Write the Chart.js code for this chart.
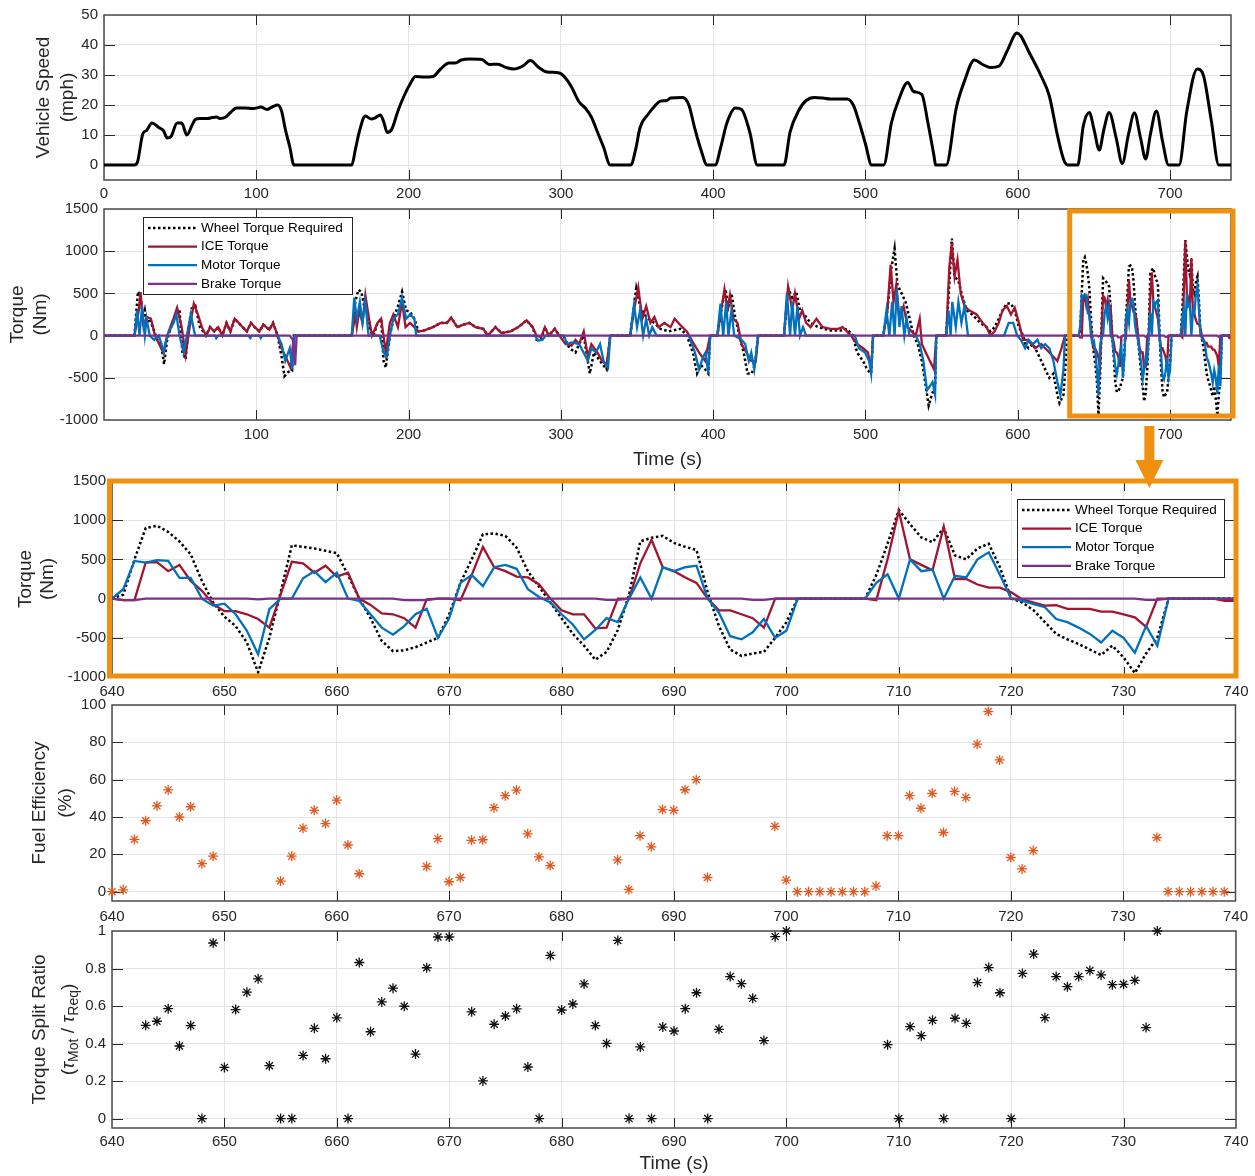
<!DOCTYPE html>
<html>
<head>
<meta charset="utf-8">
<script src="https://cdn.jsdelivr.net/npm/chart.js@4.4.1/dist/chart.umd.min.js"></script>
<style>
  html, body { margin: 0; padding: 0; background: #fff; }
  #page { position: relative; width: 1255px; height: 1176px; overflow: hidden; }
  #page canvas { position: absolute; left: 0; }
</style>
</head>
<body>
<div id="page">
  <canvas id="speed" width="1255" height="205" style="top:0px"></canvas>
  <canvas id="torqueFull" width="1255" height="301" style="top:194px"></canvas>
  <canvas id="torqueZoom" width="1255" height="239" style="top:466px"></canvas>
  <canvas id="fuelEff" width="1255" height="240" style="top:690px"></canvas>
  <canvas id="splitRatio" width="1255" height="260" style="top:916px"></canvas>
</div>
<script>
// ---- data ----
// vehicle speed (mph), [time s, speed]
const speedTrace = [[0,0],[20,0],[22,1],[25.5,10.4],[28,11.5],[31.4,14],[36,12.5],[39,11.5],[41.5,9],[44,9.5],[48,14],[51,14],[54.4,10],[57.6,13],[60,15.2],[63,15.5],[68,15.5],[71,15.8],[74,16],[76,15.5],[80,16],[83,17.5],[87,19],[92.5,19],[98,18.8],[103,19.3],[107,18.5],[111,19.5],[114,20],[116.6,18],[119,12],[122,6],[124.7,0],
  [162.7,0],[165,5],[167.6,11],[171.6,16.3],[175.6,15.3],[178,15.7],[181.5,16.7],[183.6,14.5],[186,10.8],[189,12],[193,18],[197,23],[201,27],[204.6,29.5],[210,29.3],[216,29.5],[221,32],[226.5,34],[230.6,34],[234.6,35],[240,35.3],[248,35.2],[253,33.5],[258.7,33.6],[264,32.5],[269,32],[275,33],[280,34.8],[285.5,32.5],[291,31],[299,30.7],[303,29],[307,26],[312,21],[316,19],[320,16],[324,11],[328,6],[332.4,0],
  [346,0],[349,5],[352,12.5],[357.4,17],[361.4,19.5],[365.4,21.3],[369.4,21.5],[372,22.3],[380,22.5],[384,20],[388,12],[392,5],[396,0],[401.3,0],[405,6],[409,14],[414.6,19],[418.6,18.5],[424,11],[429,0],
  [446.5,0],[450.5,11],[456,18],[461,21.5],[466.5,22.5],[472,22.3],[477,22],[488,22],[492,20],[496,14],[500,7],[504,0],[512,0],[517,14],[522,22],[527.7,27.5],[531.6,24.5],[537,23.5],[541,14],[545,3],[546,0],
  [553,0],[559.6,19],[565,28],[571.5,35],[577,33.5],[582,32.5],[587.8,33],[593,38],[599.5,44],[602,43],[607,38],[615,30],[620.7,23],[626,10],[630,2],[632.7,0],[639.4,0],
  [643,13],[647,17.5],[650,12],[653.5,5],[656.6,12],[660,17.5],[664.6,9],[668.6,0.5],[672.6,10],[676.6,17.3],[680.6,9],[684,2],[687,10],[691,18],[695,8],[699,0],[705.9,0],[711,18],[717.8,32],[721.8,30],[727,15],[732,0],[740,0]];

// torque over the whole cycle before the zoom window (Nm), [time s, torque]
const reqEarly = [[0,0],[20,0],[22.3,520],[24,480],[25.5,200],[26.8,300],[28,150],[30,200],[32,100],[35,-50],[37.5,-100],[39.4,-340],[41.5,-50],[44,100],[47,250],[49.6,300],[51.5,-200],[53.6,-280],[55.5,100],[57.6,320],[60,350],[63,100],[65,50],[67,0],[69.7,100],[72.4,50],[75,100],[77.7,0],[80.4,150],[83,50],[85.8,200],[88.5,150],[91,100],[93.8,50],[96.5,150],[99,100],[102,50],[104.6,130],[108.6,70],[111,150],[114,0],[116.6,-250],[118.5,-480],[121,-430],[123.5,-420],[124.7,0],
  [162.7,0],[165,400],[167,542],[169,520],[170.8,350],[173,300],[175,50],[177,0],[179.6,150],[182,200],[183.6,-300],[185,-380],[187.7,0],[190,200],[193,350],[195.7,520],[198.4,300],[201,280],[203.8,200],[206.4,50],[210,60],[216,100],[221,150],[225,150],[228,210],[232,100],[236,130],[240,150],[244,100],[249,80],[252,0],[257,100],[261,30],[267,50],[272,100],[277.5,180],[281.5,100],[284,-50],[287,-50],[289.5,100],[292,0],[296,80],[299,0],[301.6,0],[305.6,-150],[309.6,-200],[312,-100],[315,0],[319,-450],[321.7,-200],[325.7,-300],[330,-400],[332.4,0],
  [345.5,0],[349.5,560],[352,350],[354.8,250],[357.4,200],[361.4,150],[365.4,80],[370.7,50],[378.7,80],[382.7,0],[386.7,-200],[389.4,-450],[392,-350],[394.7,-400],[396.8,-450],[398,0],
  [402.7,0],[405.3,300],[408,550],[410,350],[412,500],[414.6,200],[417.3,0],[420,-200],[422.6,-450],[425.3,-450],[427.4,-350],[429.5,0],
  [446.5,0],[449.2,560],[451.9,450],[454.5,520],[457,300],[459.8,250],[463.8,150],[469,100],[477,60],[483.8,60],[487.8,80],[491.8,0],[494.4,-200],[498.4,-300],[501,-400],[503.7,-450],[505,0],
  [511.7,0],[514.4,300],[517,800],[519.1,1030],[521,600],[523.7,500],[526.3,400],[529,200],[531.6,0],[534.3,-100],[537,-300],[539.6,-600],[541.5,-830],[543.6,-700],[545.7,-600],[546.5,0],
  [553,0],[555,600],[556.7,1150],[558.5,700],[561,650],[563.8,450],[566.5,300],[570,250],[575.5,150],[579.5,100],[582,50],[584.8,100],[587.5,200],[590,300],[592.8,380],[595.5,380],[598,300],[600.8,100],[603.5,0],[604.8,-100],[607,-150],[610,-100],[612.8,-200],[615.4,-300],[618,-400],[620.7,-500],[623.4,-450],[626,-700],[627.4,-800],[630,-700],[632.7,0],[639,0]];

const iceEarly = [[0,0],[20,0],[22.8,300],[24,515],[26,100],[28,220],[30.8,200],[33.5,0],[38.9,-200],[41.5,0],[45.6,200],[48,330],[51,100],[53.6,-230],[55.8,50],[59,380],[61.7,250],[64.3,100],[67,0],[69.7,100],[72.4,50],[75,100],[77.7,0],[80.4,150],[83,50],[85.8,200],[88.5,150],[91,100],[93.8,50],[96.5,150],[99,100],[102,50],[104.6,130],[108.6,70],[111,150],[114,0],[116.6,-150],[119.3,-250],[122.5,-380],[124.7,0],
  [162.7,0],[165,250],[166,100],[167.6,300],[169.7,150],[171.6,480],[174,200],[176,0],[179.6,150],[182,200],[185,-200],[187.7,150],[190,250],[193,100],[195.7,400],[198,100],[201,150],[203.8,100],[206.4,50],[210,60],[216,100],[221,150],[225,150],[228,210],[232,100],[236,130],[240,150],[244,100],[249,80],[252,0],[257,100],[261,30],[267,50],[272,100],[277.5,180],[281.5,100],[284,0],[287,-20],[289.5,100],[292,0],[296,80],[299,0],[303,-100],[307,-120],[309.6,-50],[312,-100],[315,50],[317.7,-250],[320,-100],[324,-200],[327,-300],[330,-350],[332.4,0],
  [345.5,0],[348,300],[350.8,570],[353.5,200],[356,350],[358.8,150],[361.4,220],[364,100],[368,150],[372,100],[374.7,200],[378.7,120],[382.7,50],[386.7,-80],[390.7,-200],[394.7,-300],[396.8,-100],[398,0],
  [402.7,0],[405.3,300],[407.4,550],[409.3,300],[411,480],[413.3,200],[416,150],[418.6,-100],[421.8,-200],[425,-300],[428,-300],[429.5,0],
  [446.5,0],[449.2,580],[451.9,300],[453.7,500],[456.4,200],[458.5,300],[461,150],[464,100],[467.8,200],[471.8,100],[477,80],[482,80],[485,100],[487.8,50],[490.4,0],[494.4,-100],[498.4,-150],[501.6,-200],[503.7,-400],[505,0],
  [511.7,0],[514.4,300],[516.5,840],[518.4,400],[520.2,600],[522.3,200],[525,350],[527.7,100],[530.3,50],[533,0],[535.6,200],[537,-100],[539.6,-200],[542.3,-300],[545,-400],[546.5,0],
  [553,0],[555,800],[556.7,1100],[558.5,700],[560.4,900],[562.5,500],[565,350],[568,300],[573,250],[577,150],[579.5,100],[582,0],[584.8,50],[587.5,150],[590,300],[592.8,350],[595.5,250],[598,330],[600.8,150],[603.5,-50],[606,-50],[608.8,-100],[611.4,-150],[615.4,-100],[618,-150],[620.7,-200],[623.4,-250],[626,-300],[628.7,-150],[631,0],[639,0]];

const motEarly = [[0,0],[20,0],[21.7,300],[23.3,0],[25,350],[26.8,0],[28,200],[30,0],[33,-50],[36,0],[39.4,-200],[41.5,0],[45.6,150],[47.5,250],[49.6,0],[52.3,-200],[54.4,0],[57,250],[59.8,0],[73,0],[73.7,-30],[75,0],[95,0],[96,-30],[97,0],[102,0],[103,-30],[104,0],[114,0],[116.6,-100],[119,-300],[122,-150],[123.6,-400],[125.2,0],
  [162.7,0],[164.3,450],[166,200],[168,400],[169.7,150],[171.6,400],[173.7,0],[181,0],[183.6,-200],[185.7,-250],[187.7,0],[190,200],[193,250],[195.7,450],[198.4,200],[201,250],[203.8,200],[205,0],[283,0],[285,-60],[288,-50],[290,0],[302,0],[304,-100],[307,-80],[312,-100],[317.7,-300],[320,-150],[323,-200],[325.7,-100],[328,-300],[331,-380],[332.4,0],
  [345.5,0],[348,365],[350,100],[352,300],[354,0],[356,200],[358,0],[360,100],[362.8,0],[384,0],[388,-200],[390.7,-400],[393.4,-250],[395,-200],[396.8,-450],[398,0],
  [402.7,0],[404.8,380],[406.6,0],[408.5,400],[410,0],[412,300],[413.8,0],[418.6,-50],[421,-100],[423.4,-300],[425,-200],[427,-400],[429.5,0],
  [446.5,0],[448.4,500],[450.5,0],[451.9,400],[453.7,0],[455.3,350],[457,0],[459,100],[461,0],[493,0],[495.7,-150],[499.7,-200],[502.4,-300],[503.7,-450],[505,0],
  [511.7,0],[513.8,300],[515.7,0],[517.5,400],[519.1,0],[520.5,550],[522.3,100],[523.7,350],[525.5,0],[527,200],[529,0],[533,0],[535.6,-100],[538,-300],[540.4,-650],[542.3,-600],[544,-550],[545.7,-700],[546.5,0],
  [553,0],[554.5,300],[555.9,0],[557,400],[559.3,100],[561,400],[563,150],[565,350],[567.3,0],[591,0],[594,150],[597,150],[599.6,0],[602,-50],[604.8,-150],[607,-50],[610,-100],[612.8,-50],[615.4,-150],[618,-100],[620.7,-150],[623.4,-300],[626,-550],[628,-700],[630,-400],[631,0],[639,0]];

const brkEarly = [[0,0],[122,0],[124,-50],[125.5,-350],[126.5,0],[639,0]];

// zoom window 640..740 s, one value per second
const zoomStart = 640;
const zoomReq = [0,50,500,900,930,850,730,564,225,-50,
  -230,-350,-560,-940,-500,80,680,660,640,610,
  580,300,0,-250,-540,-670,-660,-620,-560,-500,
  -200,200,500,820,830,800,650,350,150,-50,
  -250,-450,-600,-780,-680,-400,50,730,775,800,
  710,660,620,80,-350,-650,-730,-700,-680,-500,
  -300,0,0,0,0,0,0,0,300,700,
  1130,950,780,720,900,550,500,640,700,400,
  0,-50,-150,-300,-450,-520,-580,-650,-720,-600,
  -750,-950,-700,-500,0,0,0,0,0,0,
  0];
const zoomIce = [0,-20,-20,460,465,350,430,225,100,-70,
  -160,-160,-200,-260,-370,50,470,450,330,420,
  280,330,0,-80,-190,-200,-250,-370,-10,0,
  0,-20,300,660,400,350,280,270,180,0,
  -150,-200,-200,-380,-370,0,0,450,750,400,
  350,270,200,0,-150,-150,-200,-250,-370,0,
  0,0,0,0,0,0,0,0,-20,500,
  1120,500,430,360,920,250,250,180,140,140,
  80,-10,-50,-90,-85,-130,-130,-130,-165,-165,
  -200,-240,-360,0,0,0,0,0,0,-30,
  -30];
const zoomMot = [0,120,480,460,490,480,265,265,0,-90,
  -65,-200,-410,-710,-135,0,0,260,350,210,
  330,0,-30,-200,-370,-460,-350,-200,-130,-500,
  -250,200,300,160,400,430,380,120,20,-50,
  -200,-330,-520,-400,-250,-300,0,270,0,400,
  350,400,420,0,-180,-480,-520,-430,-260,-500,
  -410,0,0,0,0,0,0,0,200,310,
  0,500,350,370,0,290,270,500,590,300,
  0,-30,-70,-110,-260,-300,-370,-450,-560,-410,
  -500,-690,-350,-600,0,0,0,0,0,0,
  0];
const zoomBrk = [[640,0],[641,-20],[642,-20],[643,0],[652,0],[653,-10],[654,0],[665,0],[666,-20],[668,-20],[669,0],[683,0],[684,-15],[685,-15],[686,0],[696,0],[697,-15],[698,-15],[699,0],[731,0],[732,-15],[733,-15],[734,0],[740,0]];

// fuel efficiency (%), [time s, value]
const fuelEfficiency = [[640,0],[641,1],[642,28],[643,38],[644,46],[645,54.5],[646,40],[647,45.5],[648,15],[649,19],[655,5.7],[656,19],[657,34],[658,43.6],[659,36.5],[660,49],[661,25],[662,9.6],[668,13.5],[669,28.4],[670,5.3],[671,7.6],[672,27.5],[673,27.8],[674,45],[675,51.4],[676,54.4],[677,31],[678,18.6],[679,14],[685,17],[686,1.2],[687,30],[688,24],[689,44],[690,43.6],[691,54.6],[692,60],[693,7.6],[699,35],[700,6.2],[701,0],[702,0],[703,0],[704,0],[705,0],[706,0],[707,0],[708,3],[709,30],[710,30],[711,51.4],[712,44.7],[713,52.7],[714,31.7],[715,53.7],[716,50.4],[717,79],[718,96.5],[719,70.6],[720,18.3],[721,12.2],[722,22],[733,29],[734,0],[735,0],[736,0],[737,0],[738,0],[739,0]];

// torque split ratio, [time s, tau_mot / tau_req]
const splitRatio = [[643,0.497],[644,0.519],[645,0.586],[646,0.387],[647,0.496],[648,0],[649,0.936],[650,0.273],[651,0.581],[652,0.674],[653,0.745],[654,0.282],[655,0],[656,0],[657,0.337],[658,0.481],[659,0.319],[660,0.537],[661,0],[662,0.832],[663,0.463],[664,0.622],[665,0.695],[666,0.599],[667,0.344],[668,0.804],[669,0.968],[670,0.968],[672,0.569],[673,0.201],[674,0.503],[675,0.547],[676,0.585],[677,0.275],[678,0],[679,0.87],[680,0.579],[681,0.611],[682,0.718],[683,0.496],[684,0.401],[685,0.95],[686,0],[687,0.382],[688,0],[689,0.488],[690,0.467],[691,0.586],[692,0.671],[693,0],[694,0.476],[695,0.757],[696,0.719],[697,0.641],[698,0.416],[699,0.97],[700,1.0],[709,0.394],[710,0],[711,0.49],[712,0.442],[713,0.524],[714,0],[715,0.535],[716,0.508],[717,0.725],[718,0.805],[719,0.671],[720,0],[721,0.774],[722,0.877],[723,0.538],[724,0.757],[725,0.703],[726,0.757],[727,0.789],[728,0.766],[729,0.714],[730,0.716],[731,0.737],[732,0.485],[733,1.0]];

const seriesNames = ['Wheel Torque Required', 'ICE Torque', 'Motor Torque', 'Brake Torque'];

// ---- helpers ----
const FONT = '"Liberation Sans", Arial, sans-serif';
const ORANGE = '#F0900F';
const INK = '#262626';
const COLORS = { req: '#000000', ice: '#A2142F', mot: '#0072BD', brk: '#7E2F8E' };

Chart.defaults.font.family = FONT;
Chart.defaults.font.size = 15;
Chart.defaults.color = INK;

const toXY = pairs => pairs.map(p => ({ x: p[0], y: p[1] }));
const zoomXY = vals => vals.map((v, i) => ({ x: zoomStart + i, y: v }));
const fmt = v => String(+v.toFixed(2));

// MATLAB-looking box, inward ticks, titles, legends and orange highlight
const figPlugin = {
  id: 'fig',
  beforeDatasetsDraw(chart) {
    const { ctx, chartArea: a, scales: { x, y } } = chart;
    ctx.save();
    ctx.strokeStyle = INK;
    ctx.lineWidth = 1;
    ctx.beginPath();
    x.ticks.forEach(t => {
      const px = Math.round(x.getPixelForValue(t.value)) + 0.5;
      if (px < a.left + 2 || px > a.right - 2) return;
      ctx.moveTo(px, a.bottom); ctx.lineTo(px, a.bottom - 10);
      ctx.moveTo(px, a.top); ctx.lineTo(px, a.top + 10);
    });
    y.ticks.forEach(t => {
      const py = Math.round(y.getPixelForValue(t.value)) + 0.5;
      if (py < a.top + 2 || py > a.bottom - 2) return;
      ctx.moveTo(a.left, py); ctx.lineTo(a.left + 11, py);
      ctx.moveTo(a.right, py); ctx.lineTo(a.right - 11, py);
    });
    ctx.stroke();
    ctx.strokeStyle = '#4a4a4a';
    ctx.lineWidth = 1.5;
    ctx.strokeRect(a.left, a.top, a.right - a.left, a.bottom - a.top);
    ctx.restore();
  },
  afterDraw(chart, args, o) {
    const { ctx, chartArea: a, scales: { x } } = chart;
    ctx.save();
    ctx.fillStyle = INK;

    // y titles, one entry per line, rich segments allowed
    (o.yTitle || []).forEach(line => {
      ctx.save();
      ctx.translate(line.x, (a.top + a.bottom) / 2);
      ctx.rotate(-Math.PI / 2);
      ctx.textBaseline = 'middle';
      ctx.textAlign = 'left';
      const segs = typeof line.text === 'string' ? [{ t: line.text }] : line.text;
      const fontOf = s => (s.italic ? 'italic ' : '') + (s.sub ? 14 : 19) + 'px ' + FONT;
      let total = 0;
      segs.forEach(s => { ctx.font = fontOf(s); total += ctx.measureText(s.t).width; });
      let cx = -total / 2;
      segs.forEach(s => {
        ctx.font = fontOf(s);
        ctx.fillText(s.t, cx, s.sub ? 5 : 0);
        cx += ctx.measureText(s.t).width;
      });
      ctx.restore();
    });

    if (o.xTitle) {
      ctx.font = '19px ' + FONT;
      ctx.textAlign = 'center';
      ctx.textBaseline = 'middle';
      ctx.fillText(o.xTitle, (a.left + a.right) / 2, a.bottom + o.xTitleDy);
    }

    if (o.legend) {
      const L = o.legend;
      const lx = L.right != null ? a.right - L.right - L.w : a.left + L.left;
      const ly = a.top + L.top;
      ctx.fillStyle = '#fff';
      ctx.fillRect(lx, ly, L.w, L.h);
      ctx.strokeStyle = INK;
      ctx.lineWidth = 1;
      ctx.strokeRect(lx + 0.5, ly + 0.5, L.w, L.h);
      chart.data.datasets.forEach((ds, i) => {
        const ry = ly + 11 + i * 18.6;
        ctx.beginPath();
        ctx.setLineDash(ds.borderDash || []);
        ctx.strokeStyle = ds.borderColor;
        ctx.lineWidth = ds.borderWidth;
        ctx.moveTo(lx + 5, ry);
        ctx.lineTo(lx + 54, ry);
        ctx.stroke();
        ctx.setLineDash([]);
        ctx.fillStyle = '#000';
        ctx.font = '13.5px ' + FONT;
        ctx.textAlign = 'left';
        ctx.textBaseline = 'middle';
        ctx.fillText(ds.label, lx + 58, ry);
      });
    }

    if (o.zoomBox) {
      const bx0 = x.getPixelForValue(zoomStart) - 9, bx1 = a.right + 2;
      const by0 = a.top + 2, by1 = a.bottom - 4;
      ctx.strokeStyle = ORANGE;
      ctx.lineWidth = 5;
      ctx.strokeRect(bx0, by0, bx1 - bx0, by1 - by0);
      const cx = (bx0 + bx1) / 2 - 2;
      ctx.fillStyle = ORANGE;
      ctx.fillRect(cx - 5, a.bottom + 6, 10, 36);
      ctx.beginPath();
      ctx.moveTo(cx - 14, a.bottom + 40);
      ctx.lineTo(cx + 14, a.bottom + 40);
      ctx.lineTo(cx, a.bottom + 68);
      ctx.closePath();
      ctx.fill();
    }

    if (o.zoomFrame) {
      ctx.strokeStyle = ORANGE;
      ctx.lineWidth = 5;
      ctx.strokeRect(a.left - 2.5, a.top, a.right - a.left + 2.5, a.bottom - a.top - 1);
    }
    ctx.restore();
  }
};

function makeScales(c) {
  return {
    x: {
      type: 'linear', min: c.xMin, max: c.xMax,
      ticks: { stepSize: c.xStep, includeBounds: false, padding: c.xPad, maxRotation: 0, autoSkip: false,
               callback: v => (c.hideX0 && v === 0) ? '' : fmt(v) },
      grid: { color: '#e4e4e4', drawTicks: false },
      border: { display: false },
      afterFit: s => { s.height = c.xH; }
    },
    y: {
      type: 'linear', min: c.yMin, max: c.yMax,
      ticks: { stepSize: c.yStep, includeBounds: false, padding: 6, autoSkip: false, callback: v => fmt(v) },
      grid: { color: '#e4e4e4', drawTicks: false },
      border: { display: false },
      afterFit: s => { s.width = c.left; }
    }
  };
}

function baseOptions(c, figOpts) {
  return {
    responsive: false,
    animation: false,
    devicePixelRatio: 1,
    events: [],
    layout: { autoPadding: false, padding: { top: c.top, right: c.right, left: 0, bottom: 0 } },
    scales: makeScales(c),
    plugins: { legend: { display: false }, tooltip: { enabled: false }, fig: figOpts }
  };
}

function torqueSets(req, ice, mot, brk) {
  return [
    { label: seriesNames[0], data: req, borderColor: COLORS.req, borderWidth: 2.5, borderDash: [2.5, 2.5], pointRadius: 0, order: 3 },
    { label: seriesNames[1], data: ice, borderColor: COLORS.ice, borderWidth: 2.3, pointRadius: 0, order: 2 },
    { label: seriesNames[2], data: mot, borderColor: COLORS.mot, borderWidth: 2.3, pointRadius: 0, order: 1 },
    { label: seriesNames[3], data: brk, borderColor: COLORS.brk, borderWidth: 2.3, pointRadius: 0, order: 0 }
  ];
}

// ---- panel 1: vehicle speed ----
new Chart(document.getElementById('speed'), {
  type: 'line',
  data: { datasets: [{ data: toXY(speedTrace), borderColor: '#000', borderWidth: 3, pointRadius: 0, cubicInterpolationMode: 'monotone' }] },
  options: baseOptions(
    { xMin: 0, xMax: 740, xStep: 100, yMin: -5, yMax: 50, yStep: 10, left: 104, right: 24, top: 15, xH: 25, xPad: 5 },
    { yTitle: [{ x: 44, text: 'Vehicle Speed' }, { x: 68, text: '(mph)' }] }),
  plugins: [figPlugin]
});

// ---- panel 2: torque over the full cycle ----
new Chart(document.getElementById('torqueFull'), {
  type: 'line',
  data: { datasets: torqueSets(
    toXY(reqEarly).concat(zoomXY(zoomReq)),
    toXY(iceEarly).concat(zoomXY(zoomIce)),
    toXY(motEarly).concat(zoomXY(zoomMot)),
    toXY(brkEarly).concat(toXY(zoomBrk))) },
  options: baseOptions(
    { xMin: 0, xMax: 740, xStep: 100, hideX0: true, yMin: -1000, yMax: 1500, yStep: 500, left: 104, right: 24, top: 14, xH: 75, xPad: 6 },
    { yTitle: [{ x: 18, text: 'Torque' }, { x: 41, text: '(Nm)' }],
      xTitle: 'Time (s)', xTitleDy: 40,
      legend: { left: 39, top: 8, w: 209, h: 77 },
      zoomBox: true }),
  plugins: [figPlugin]
});

// ---- panel 3: zoomed torque ----
new Chart(document.getElementById('torqueZoom'), {
  type: 'line',
  data: { datasets: torqueSets(zoomXY(zoomReq), zoomXY(zoomIce), zoomXY(zoomMot), toXY(zoomBrk)) },
  options: baseOptions(
    { xMin: 640, xMax: 740, xStep: 10, yMin: -1000, yMax: 1500, yStep: 500, left: 112, right: 19, top: 14, xH: 28, xPad: 6 },
    { yTitle: [{ x: 26, text: 'Torque' }, { x: 48, text: '(Nm)' }],
      legend: { right: 12, top: 18, w: 207, h: 78 },
      zoomFrame: true }),
  plugins: [figPlugin]
});

// ---- panel 4: fuel efficiency ----
new Chart(document.getElementById('fuelEff'), {
  type: 'scatter',
  data: { datasets: [{ data: toXY(fuelEfficiency), pointStyle: 'star', pointRadius: 5, borderColor: '#E2581E', borderWidth: 1.3, clip: false }] },
  options: baseOptions(
    { xMin: 640, xMax: 740, xStep: 10, yMin: -5, yMax: 100, yStep: 20, left: 112, right: 19, top: 15, xH: 29, xPad: 7 },
    { yTitle: [{ x: 40, text: 'Fuel Efficiency' }, { x: 66, text: '(%)' }] }),
  plugins: [figPlugin]
});

// ---- panel 5: torque split ratio ----
new Chart(document.getElementById('splitRatio'), {
  type: 'scatter',
  data: { datasets: [{ data: toXY(splitRatio), pointStyle: 'star', pointRadius: 5, borderColor: '#111', borderWidth: 1.3, clip: false }] },
  options: baseOptions(
    { xMin: 640, xMax: 740, xStep: 10, yMin: -0.05, yMax: 1, yStep: 0.2, left: 112, right: 19, top: 14, xH: 48, xPad: 5 },
    { yTitle: [
        { x: 40, text: 'Torque Split Ratio' },
        { x: 69, text: [{ t: '(' }, { t: 'τ', italic: true }, { t: 'Mot', sub: true }, { t: ' / ' }, { t: 'τ', italic: true }, { t: 'Req', sub: true }, { t: ')' }] }
      ],
      xTitle: 'Time (s)', xTitleDy: 36 }),
  plugins: [figPlugin]
});
</script>
</body>
</html>
